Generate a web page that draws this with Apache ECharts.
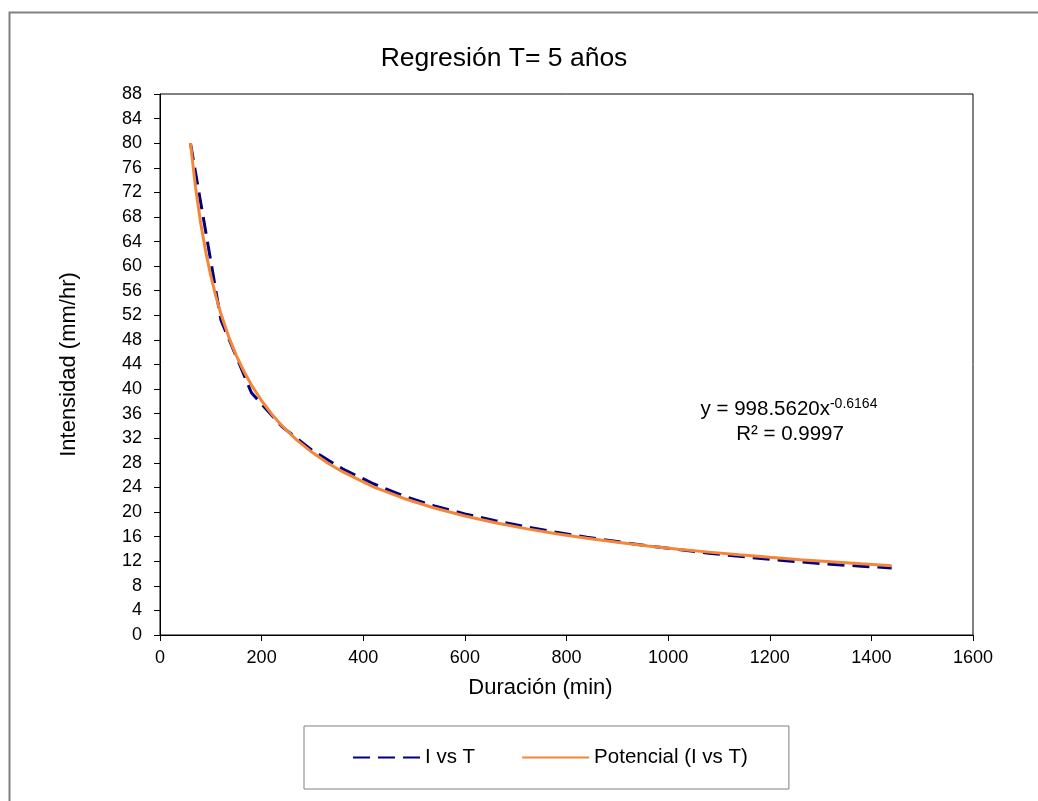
<!DOCTYPE html>
<html>
<head>
<meta charset="utf-8">
<script src="https://cdn.jsdelivr.net/npm/echarts@6/dist/echarts.min.js"></script>
<style>
html,body{margin:0;padding:0;background:#fff;}
#c{width:1038px;height:801px;}
</style>
</head>
<body>
<div id="c"></div>
<script>
// Observed data: duration (min) vs intensity (mm/hr)
const durations = [60,120,180,240,300,360,420,480,540,600,660,720,780,840,900,960,1020,1080,1140,1200,1260,1320,1380,1440];
const intensities = [80.0,51.2,39.4,33.9,30.0,27.0,24.6,22.6,21.0,19.7,18.6,17.6,16.7,15.9,15.2,14.5,13.9,13.3,12.8,12.3,11.9,11.5,11.2,10.9];
// Power trendline values (y = 998.5620x^-0.6164)
const trendX = [60,70,80,90,100,110,120,135,150,165,180,200,220,240,270,300,330,360,420,480,540,600,660,720,780,840,900,960,1020,1080,1140,1200,1260,1320,1380,1440];
const trendY = [80.02,72.77,67.02,62.33,58.40,55.07,52.20,48.54,45.49,42.90,40.66,38.10,35.92,34.05,31.66,29.67,27.98,26.52,24.11,22.21,20.66,19.36,18.25,17.30,16.47,15.73,15.08,14.49,13.96,13.48,13.04,12.63,12.25,11.91,11.58,11.28];
const seriesNames = ['I vs T','Potencial (I vs T)'];
const titleText = 'Regresión T= 5 años';
const xTitle = 'Duración (min)';
const yTitle = 'Intensidad (mm/hr)';

const FONT = '"Liberation Sans", Arial, sans-serif';
const chart = echarts.init(document.getElementById('c'), null, {renderer:'canvas'});
chart.setOption({
  backgroundColor:'#fff',
  animation:false,
  title:{text:titleText,left:499,textAlign:'center',top:40,textStyle:{fontFamily:FONT,fontSize:26.5,fontWeight:'normal',color:'#000'}},
  grid:{left:160,top:94,right:65,bottom:166,show:true,borderColor:'#000',borderWidth:1},
  xAxis:{type:'value',min:0,max:1600,interval:200,name:xTitle,nameLocation:'middle',nameGap:42,
    nameTextStyle:{fontFamily:FONT,fontSize:22,color:'#000',padding:[0,52,0,0]},
    axisLine:{lineStyle:{color:'#000',width:1}},axisTick:{show:true,length:6,lineStyle:{color:'#000'}},
    axisLabel:{fontFamily:FONT,fontSize:18,color:'#000',margin:14,formatter:v=>String(v)},splitLine:{show:false}},
  yAxis:{type:'value',min:0,max:88,interval:4,name:yTitle,nameLocation:'middle',nameGap:80,nameRotate:90,
    nameTextStyle:{fontFamily:FONT,fontSize:22,color:'#000'},
    axisLine:{show:true,lineStyle:{color:'#000',width:1}},axisTick:{show:true,length:6,lineStyle:{color:'#000'}},
    axisLabel:{fontFamily:FONT,fontSize:18,color:'#000',margin:18,formatter:v=>String(v)},splitLine:{show:false}},
  legend:{left:304,top:726,orient:'horizontal',padding:[21,41,21,48],itemGap:46,itemWidth:67,itemHeight:12,
    borderColor:'#808080',borderWidth:1,textStyle:{fontFamily:FONT,fontSize:20.5,color:'#000'},
    itemStyle:{opacity:0},
    data:seriesNames},
  series:[
    {name:seriesNames[0],type:'line',showSymbol:false,symbol:'none',data:durations.map((d,i)=>[d,intensities[i]]),
     lineStyle:{color:'#000080',width:3,type:[17,8]},itemStyle:{color:'#000080'},z:2},
    {name:seriesNames[1],type:'line',showSymbol:false,symbol:'none',smooth:false,data:trendX.map((d,i)=>[d,trendY[i]]),
     lineStyle:{color:'#F4863A',width:3},itemStyle:{color:'#F4863A'},z:3}
  ],
  graphic:[
    {type:'rect',left:7,top:10,shape:{width:1100,height:900},style:{fill:'none',stroke:'#808080',lineWidth:2},silent:true,z:-1},
    {type:'text',x:789,y:409,style:{fontFamily:FONT,fontSize:20.5,fill:'#000',align:'center',verticalAlign:'middle',
      text:'{a|y = 998.5620x}{s|-0.6164}',rich:{a:{fontFamily:FONT,fontSize:20.5,fill:'#000'},s:{fontFamily:FONT,fontSize:14,fill:'#000',verticalAlign:'top',padding:[0,0,9,0]}}}},
    {type:'text',x:790,y:434,style:{fontFamily:FONT,fontSize:20.5,fill:'#000',align:'center',verticalAlign:'middle',text:'R² = 0.9997'}}
  ]
});
</script>
</body>
</html>
